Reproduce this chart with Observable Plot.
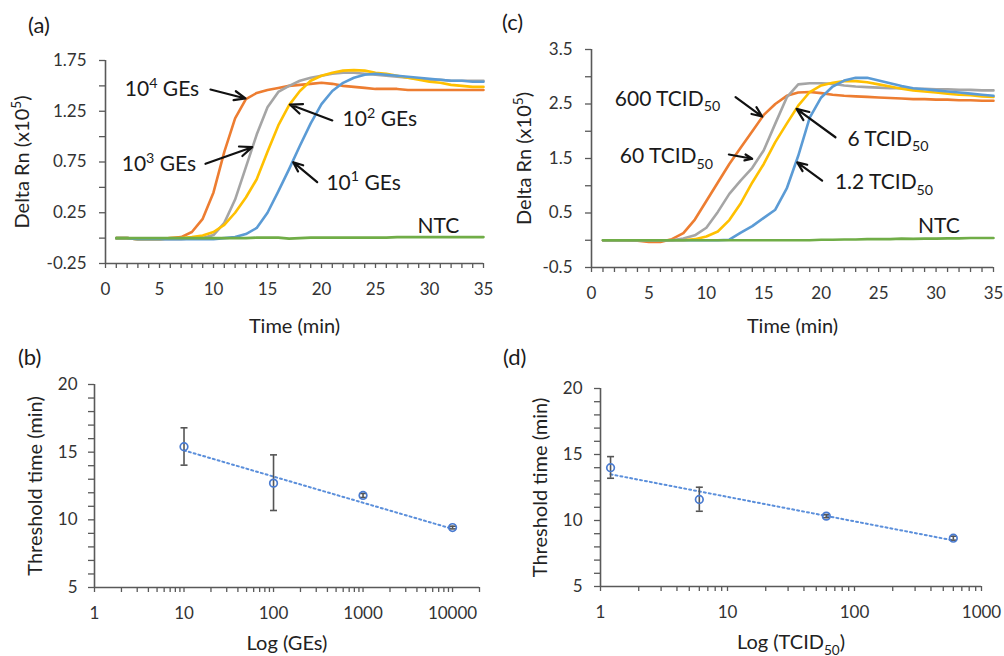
<!DOCTYPE html>
<html><head><meta charset="utf-8">
<script src="https://cdn.jsdelivr.net/npm/d3@7"></script>
<script src="https://cdn.jsdelivr.net/npm/@observablehq/plot@0.6"></script>
<style>
body{margin:0;background:#fff;font-family:Lato,sans-serif}
#wrap{position:relative;width:1004px;height:656px;overflow:hidden;background:#fff}
#wrap svg{position:absolute}
.tag{position:absolute;font:22px Lato,sans-serif;line-height:22px;color:#1a1a1a}
</style></head>
<body><div id="wrap">
<div class="tag" style="left:28px;top:14px">(a)</div>
<div class="tag" style="left:502px;top:11px">(c)</div>
<div class="tag" style="left:18px;top:346px">(b)</div>
<div class="tag" style="left:503px;top:346px">(d)</div>
</div>
<script>
// ---------- data ----------
const time = [1,2,3,4,5,6,7,8,9,10,11,12,13,14,15,16,17,18,19,20,21,22,23,24,25,26,27,28,29,30,31,32,33,34,35];
const timeDomain = [0, 35];
const xTicks = [0,1,2,3,4,5,6,7,8,9,10,11,12,13,14,15,16,17,18,19,20,21,22,23,24,25,26,27,28,29,30,31,32,33,34,35];
const xLabels = [0,5,10,15,20,25,30,35];

// panel (a): Delta Rn (x10^5), GEs
const aYDomain = [-0.25, 1.75];
const aYTicks = [-0.25,0,0.25,0.5,0.75,1,1.25,1.5,1.75];
const aYLabels = [-0.25,0.25,0.75,1.25,1.75];
const aGE4 = [0,0,-0.01,-0.01,-0.01,0,0.01,0.06,0.19,0.45,0.85,1.18,1.37,1.43,1.46,1.48,1.50,1.51,1.52,1.53,1.52,1.50,1.49,1.48,1.47,1.47,1.47,1.46,1.46,1.46,1.46,1.46,1.46,1.46,1.46];
const aGE3 = [0,0,-0.01,-0.01,-0.01,-0.01,-0.01,0,0,0.03,0.15,0.38,0.70,1.02,1.29,1.44,1.50,1.55,1.58,1.60,1.62,1.63,1.63,1.62,1.61,1.60,1.59,1.58,1.57,1.56,1.56,1.55,1.55,1.55,1.55];
const aGE2 = [0,0,-0.01,-0.01,-0.01,0,0,0.01,0.025,0.06,0.13,0.25,0.40,0.58,0.85,1.11,1.31,1.45,1.55,1.60,1.63,1.65,1.655,1.65,1.63,1.62,1.60,1.58,1.56,1.54,1.53,1.51,1.50,1.49,1.49];
const aGE1 = [0,0,-0.01,-0.01,-0.01,-0.01,-0.01,-0.01,-0.01,-0.01,0,0.01,0.04,0.10,0.25,0.46,0.68,0.91,1.13,1.32,1.45,1.53,1.58,1.61,1.62,1.61,1.60,1.59,1.58,1.57,1.56,1.55,1.55,1.54,1.54];
const aNTC = [0,0,0,0,0,0,0,0,0,0,0,0,0,0.005,0.005,0.005,-0.005,0,0.005,0.005,0.005,0.005,0.005,0.005,0.005,0.005,0.01,0.01,0.01,0.01,0.01,0.01,0.01,0.01,0.01];
const aNoteText = ["10^{4} GEs","10^{3} GEs","10^{2} GEs","10^{1} GEs","NTC"];
const aNoteX = [5.23, 4.95, 25.4, 23.9, 30.83];
const aNoteY = [1.464, 0.725, 1.169, 0.543, 0.116];
const aArrowX1 = [9.72, 9.26, 21.0, 19.6];
const aArrowY1 = [1.464, 0.732, 1.159, 0.551];
const aArrowX2 = [12.96, 13.58, 17.07, 17.38];
const aArrowY2 = [1.376, 0.896, 1.316, 0.748];

// panel (c): Delta Rn (x10^5), TCID50
const cYDomain = [-0.5, 3.5];
const cYTicks = [-0.5,0,0.5,1,1.5,2,2.5,3,3.5];
const cYLabels = [-0.5,0.5,1.5,2.5,3.5];
const c600 = [0,0,0,-0.01,-0.03,-0.03,0.02,0.13,0.38,0.72,1.06,1.40,1.70,2.00,2.30,2.50,2.65,2.71,2.72,2.70,2.67,2.65,2.64,2.63,2.62,2.61,2.60,2.59,2.59,2.58,2.58,2.57,2.57,2.56,2.56];
const c60 = [0,0,0,0,0,0,0,0.03,0.09,0.23,0.52,0.85,1.10,1.33,1.65,2.14,2.62,2.86,2.88,2.88,2.87,2.84,2.82,2.81,2.80,2.79,2.79,2.78,2.78,2.77,2.77,2.76,2.76,2.75,2.75];
const c6 = [0,0,0,0,0,0,0,0,0.02,0.07,0.16,0.37,0.68,1.06,1.40,1.80,2.14,2.47,2.72,2.84,2.89,2.92,2.92,2.90,2.86,2.82,2.78,2.75,2.73,2.71,2.69,2.67,2.66,2.64,2.63];
const c12 = [0,0,0,0,0,0,0,0,0,0,0,0.01,0.14,0.26,0.41,0.56,0.95,1.55,2.25,2.62,2.82,2.93,2.98,2.98,2.93,2.88,2.83,2.79,2.77,2.75,2.73,2.71,2.69,2.67,2.65];
const cNTC = [0,0,0,0,0,0,0,0,0,0,0,0,0,0,0,0,0,0,0,0.01,0.01,0.015,0.015,0.02,0.02,0.02,0.03,0.025,0.03,0.03,0.035,0.035,0.04,0.04,0.04];
const cNoteText = ["600 TCID_{50}","60 TCID_{50}","6 TCID_{50}","1.2 TCID_{50}","NTC"];
const cNoteX = [6.62, 6.53, 25.81, 25.47, 30.25];
const cNoteY = [2.595, 1.54, 1.86, 1.065, 0.256];
const cArrowX1 = [12.54, 11.96, 21.24, 20.08];
const cArrowY1 = [2.625, 1.573, 1.89, 1.096];
const cArrowX2 = [14.86, 13.99, 17.85, 17.91];
const cArrowY2 = [2.27, 1.495, 2.41, 1.43];

// panel (b): threshold time vs GEs
const bXDomain = [1, 20000];
const bXLabels = [1,10,100,1000,10000];
const tYDomain = [5, 20];
const tYTicks = [5,6,7,8,9,10,11,12,13,14,15,16,17,18,19,20];
const tYLabels = [5,10,15,20];
const bX = [10, 100, 1000, 10000];
const bMean = [15.4, 12.71, 11.8, 9.43];
const bLow = [14.04, 10.69, 11.65, 9.33];
const bHigh = [16.8, 14.8, 11.95, 9.53];
const bTrendX = [10, 10000];
const bTrendY = [15.13, 9.33];

// panel (d): threshold time vs TCID50
const dXDomain = [1, 1000];
const dXLabels = [1,10,100,1000];
const dX = [1.2, 6, 60, 600];
const dMean = [14.0, 11.59, 10.33, 8.66];
const dLow = [13.2, 10.7, 10.21, 8.51];
const dHigh = [14.84, 12.52, 10.45, 8.81];
const dTrendX = [1.2, 600];
const dTrendY = [13.5, 8.49];

// ---------- styling ----------
const COL = {orange:"#ED7D31", gray:"#A5A5A5", yellow:"#FFC000", blue:"#5B9BD5", green:"#70AD47", marker:"#4A7BD0", trend:"#5B8FDB", axis:"#595959", err:"#555", text:"#1a1a1a"};
const baseStyle = {background:"transparent", overflow:"visible", fontFamily:"Lato, sans-serif", fontSize:"17px", color:"#333"};
const fmt = labels => d => labels.includes(d) ? String(d) : "";
const series = arr => time.map((t, i) => ({t, v: arr[i]}));
const logTicks = (domain) => [1,10,100,1000,10000].flatMap(d => d3.range(1,10).map(k => k*d)).filter(v => v >= domain[0] && v <= domain[1]);
const cap = {draw(ctx, size){ const w = Math.sqrt(size/Math.PI); ctx.moveTo(-w,0); ctx.lineTo(w,0); }};

function curvePanel(o){
  const notes = o.noteText.map((s,i) => ({label:s, x:o.noteX[i], y:o.noteY[i]}));
  const arrows = o.ax1.map((d,i) => ({x1:d, y1:o.ay1[i], x2:o.ax2[i], y2:o.ay2[i]}));
  const lines = o.curves.map(([arr, c]) => Plot.line(series(arr), {x:"t", y:"v", stroke:c, strokeWidth:2.6, strokeLinejoin:"round"}));
  return Plot.plot({
    width:o.width, height:o.height, marginLeft:o.ml, marginRight:o.mr, marginTop:o.mt, marginBottom:o.mb,
    x:{domain:timeDomain}, y:{domain:o.yDomain},
    style: baseStyle,
    marks:[
      Plot.axisY({ticks:o.yTicks, tickFormat:fmt(o.yLabels), tickSize:6, tickPadding:13, label:null, fontSize:17, stroke:COL.axis, strokeWidth:1.3}),
      Plot.axisX({ticks:xTicks, tickFormat:fmt(xLabels), tickSize:5, tickPadding:14, label:null, fontSize:17, stroke:COL.axis, strokeWidth:1.3}),
      Plot.ruleX([timeDomain[0]], {y1:o.yDomain[0], y2:o.yDomain[1], stroke:COL.axis, strokeWidth:1.6}),
      Plot.ruleY([o.yDomain[0]], {x1:timeDomain[0], x2:timeDomain[1], stroke:COL.axis, strokeWidth:1.6}),
      ...lines,
      Plot.arrow(arrows, {x1:"x1", y1:"y1", x2:"x2", y2:"y2", stroke:"#111", strokeWidth:2.2, headLength:9, headAngle:45}),
      Plot.text(notes, {x:"x", y:"y", text:"label", fontSize:21, fill:COL.text}),
      Plot.text(["Delta Rn (x10^{5})"], {frameAnchor:"left", dx:o.ytdx, rotate:-90, textAnchor:"middle", lineAnchor:"middle", fontSize:20, fill:"#222"}),
      Plot.text(["Time (min)"], {frameAnchor:"bottom", dy:o.xtdy, textAnchor:"middle", lineAnchor:"middle", fontSize:20, fill:"#222"})
    ]
  });
}

function thresholdPanel(o){
  const pts = o.x.map((x,i) => ({x, y:o.mean[i], lo:o.low[i], hi:o.high[i]}));
  const trend = o.trendX.map((x,i) => ({x, y:o.trendY[i]}));
  return Plot.plot({
    width:o.width, height:o.height, marginLeft:o.ml, marginRight:o.mr, marginTop:o.mt, marginBottom:o.mb,
    x:{type:"log", domain:o.xDomain}, y:{domain:tYDomain},
    style: baseStyle,
    marks:[
      Plot.axisY({ticks:tYTicks, tickFormat:fmt(tYLabels), tickSize:6, tickPadding:o.ypad, label:null, fontSize:17, stroke:COL.axis, strokeWidth:1.3}),
      Plot.axisX({ticks:logTicks(o.xDomain), tickFormat:fmt(o.xLabels), tickSize:5, tickPadding:14, label:null, fontSize:17, stroke:COL.axis, strokeWidth:1.3}),
      Plot.ruleX([o.xDomain[0]], {y1:tYDomain[0], y2:tYDomain[1], stroke:COL.axis, strokeWidth:1.6}),
      Plot.ruleY([tYDomain[0]], {x1:o.xDomain[0], x2:o.xDomain[1], stroke:COL.axis, strokeWidth:1.6}),
      Plot.line(trend, {x:"x", y:"y", stroke:COL.trend, strokeWidth:2, strokeDasharray:"2,3"}),
      Plot.ruleX(pts, {x:"x", y1:"lo", y2:"hi", stroke:COL.err, strokeWidth:1.6}),
      Plot.dot(pts, {x:"x", y:"lo", symbol:cap, r:3.5, stroke:COL.err, strokeWidth:1.6, fill:"none"}),
      Plot.dot(pts, {x:"x", y:"hi", symbol:cap, r:3.5, stroke:COL.err, strokeWidth:1.6, fill:"none"}),
      Plot.dot(pts, {x:"x", y:"y", r:3.8, stroke:COL.marker, strokeWidth:1.7, fill:"none"}),
      Plot.text(["Threshold time (min)"], {frameAnchor:"left", dx:o.ytdx, rotate:-90, textAnchor:"middle", lineAnchor:"middle", fontSize:20, fill:"#222"}),
      Plot.text([o.xTitle], {frameAnchor:"bottom", dy:o.xtdy, textAnchor:"middle", lineAnchor:"middle", fontSize:20, fill:"#222"})
    ]
  });
}

// sub/superscript markup -> tspans
function scripts(root){
  const NS = "http://www.w3.org/2000/svg";
  root.querySelectorAll("text").forEach(t => {
    const s = t.textContent;
    if (!/[\^_]\{/.test(s)) return;
    const fs = parseFloat(getComputedStyle(t).fontSize) || 16;
    while (t.firstChild) t.removeChild(t.firstChild);
    const add = (str, size, dy) => {
      const sp = document.createElementNS(NS, "tspan");
      sp.textContent = str;
      if (size) sp.setAttribute("font-size", size);
      if (dy) sp.setAttribute("dy", dy);
      t.appendChild(sp);
    };
    const re = /([\^_])\{([^}]*)\}/g;
    let last = 0, m, shift = 0;
    while ((m = re.exec(s))) {
      if (m.index > last) { add(s.slice(last, m.index), null, -shift); shift = 0; }
      const d = m[1] === "^" ? -0.4*fs : 0.28*fs;
      add(m[2], 0.68*fs, d - shift);
      shift = d;
      last = re.lastIndex;
    }
    if (last < s.length) add(s.slice(last), null, -shift);
  });
}

const wrap = document.getElementById("wrap");
function place(svg, left, top){
  svg.style.left = left + "px"; svg.style.top = top + "px";
  wrap.appendChild(svg);
  scripts(svg);
}

place(curvePanel({width:500, height:330, ml:105, mr:17, mt:60, mb:67, yDomain:aYDomain, yTicks:aYTicks, yLabels:aYLabels,
  curves:[[aGE4,COL.orange],[aGE3,COL.gray],[aGE2,COL.yellow],[aGE1,COL.blue],[aNTC,COL.green]],
  noteText:aNoteText, noteX:aNoteX, noteY:aNoteY, ax1:aArrowX1, ay1:aArrowY1, ax2:aArrowX2, ay2:aArrowY2, ytdx:-83, xtdy:63}), 0, 0);

place(curvePanel({width:504, height:330, ml:91, mr:11, mt:49, mb:63, yDomain:cYDomain, yTicks:cYTicks, yLabels:cYLabels,
  curves:[[c600,COL.orange],[c60,COL.gray],[c6,COL.yellow],[c12,COL.blue],[cNTC,COL.green]],
  noteText:cNoteText, noteX:cNoteX, noteY:cNoteY, ax1:cArrowX1, ay1:cArrowY1, ax2:cArrowX2, ay2:cArrowY2, ytdx:-67, xtdy:59}), 500, 0);

place(thresholdPanel({width:500, height:326, ml:94, mr:21, mt:54, mb:69, xDomain:bXDomain, xLabels:bXLabels,
  x:bX, mean:bMean, low:bLow, high:bHigh, trendX:bTrendX, trendY:bTrendY, ypad:11, ytdx:-59, xtdy:56, xTitle:"Log (GEs)"}), 0, 330);

place(thresholdPanel({width:504, height:326, ml:100, mr:23, mt:58, mb:70, xDomain:dXDomain, xLabels:dXLabels,
  x:dX, mean:dMean, low:dLow, high:dHigh, trendX:dTrendX, trendY:dTrendY, ypad:12, ytdx:-60, xtdy:56, xTitle:"Log (TCID_{50})"}), 500, 330);
</script>
</body></html>
